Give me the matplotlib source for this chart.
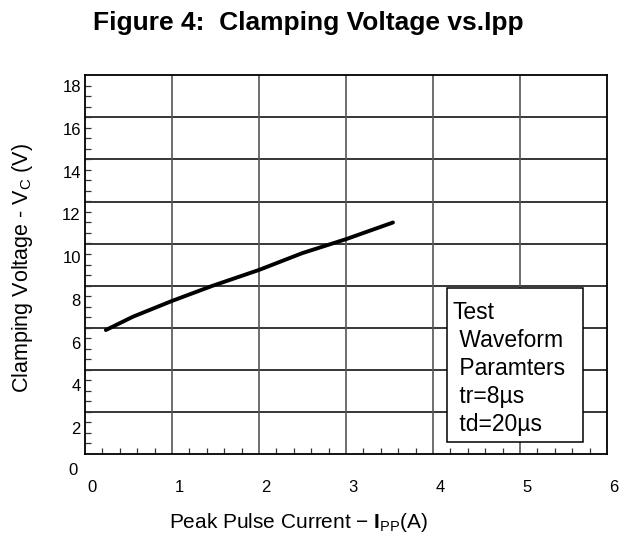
import numpy as np
import matplotlib
matplotlib.use("Agg")
import matplotlib.pyplot as plt
from matplotlib.patches import Rectangle
from matplotlib.transforms import ScaledTranslation, blended_transform_factory

plt.rcParams['font.family'] = ['Liberation Sans', 'DejaVu Sans']
plt.rcParams['mathtext.fontset'] = 'custom'
plt.rcParams['mathtext.rm'] = 'Liberation Sans'
plt.rcParams['mathtext.it'] = 'Liberation Sans:italic'
plt.rcParams['mathtext.bf'] = 'Liberation Sans:bold'

# data (current in A, clamping voltage in V)
ipp = [0.24, 0.55, 1.0, 1.46, 2.0, 2.5, 3.0, 3.54]
vc = [6.59, 7.21, 7.95, 8.65, 9.40, 10.19, 10.84, 11.62]

x_ticks = [0, 1, 2, 3, 4, 5, 6]
y_ticks = [2, 4, 6, 8, 10, 12, 14, 16, 18]
box_lines = ["Test", " Waveform", " Paramters", " tr=8\u00b5s", " td=20\u00b5s"]

fig = plt.figure(figsize=(6.23, 5.33), dpi=100)
ax = fig.add_axes([0.1364, 0.1482, 0.8379, 0.7111])

ax.set_xlim(0, 6)
ax.set_ylim(0.79, 18.52)

# grid of the scanned chart sits a bit off the labels
grid_v = 2.75 + 1.97 * np.arange(8)
for g in grid_v:
    ax.axhline(g, color='black', lw=1.1, zorder=1)
for g in x_ticks[1:-1]:
    ax.axvline(g, color='#555555', lw=1.2, zorder=1)

ax.plot(ipp, vc, color='black', lw=2.8, solid_capstyle='round', zorder=4)

# ticks
ax.set_xticks(x_ticks)
ax.set_xticklabels([str(t) for t in x_ticks])
ax.set_yticks(y_ticks)
ax.set_yticklabels([str(t) for t in y_ticks])
ax.set_xticks(np.arange(0.2, 6, 0.2), minor=True)
ax.set_yticks(np.arange(0.79 + 0.4925, 18.5, 0.4925), minor=True)
ax.tick_params(which='major', length=0, labelsize=12)
ax.tick_params(axis='x', which='major', pad=19)
ax.tick_params(axis='y', which='major', pad=3)
ax.tick_params(which='minor', direction='in', length=4.5, width=0.9, color='#333333')
shift = ScaledTranslation(0.07, 0, fig.dpi_scale_trans)
for lab in ax.get_xticklabels():
    lab.set_transform(lab.get_transform() + shift)

trans = blended_transform_factory(ax.transAxes, ax.transData)
ax.text(-0.0134, 0, "0", transform=trans, ha='right', va='center',
        fontsize=12, clip_on=False)

for s in ax.spines.values():
    s.set_linewidth(1.3)

# parameter box
ax.add_patch(Rectangle((4.16, 1.34), 1.56, 7.22, facecolor='white',
                       edgecolor='black', lw=1.1, zorder=3))
for i, line in enumerate(box_lines):
    ax.text(4.227, 7.39 - i * 1.305, line, fontsize=16.5, ha='left',
            va='center', zorder=5)

ax.set_xlabel(r"Peak Pulse Current $-$ $\mathbf{I}_{\mathrm{PP}}$(A)", fontsize=15)
ax.xaxis.set_label_coords(0.41, -0.15)
ax.set_ylabel(r"Clamping Voltage - $\mathrm{V}_{\mathrm{C}}$ (V)", fontsize=15.5)
ax.yaxis.set_label_coords(-0.095, 0.49)

fig.text(0.495, 0.9437, "Figure 4:  Clamping Voltage vs.Ipp", ha='center',
         va='baseline', fontsize=19, fontweight='bold')

fig.savefig("out.png", dpi=100)
